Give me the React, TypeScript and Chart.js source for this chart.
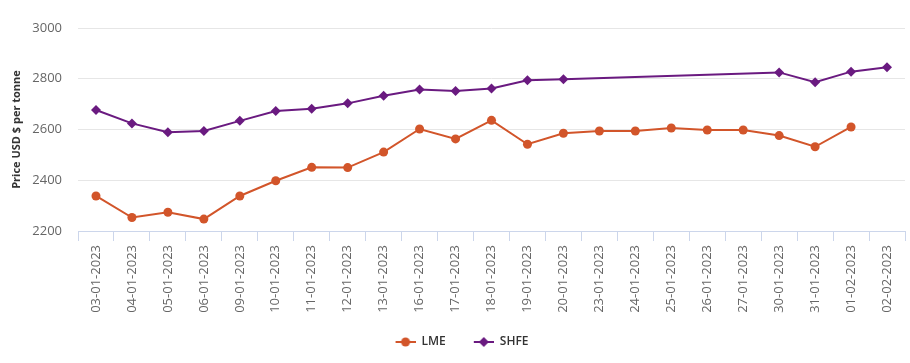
import React, { useEffect, useRef } from "react";
import { Chart, registerables } from "chart.js";

Chart.register(...registerables);

const categories = [
  "03-01-2023", "04-01-2023", "05-01-2023", "06-01-2023", "09-01-2023",
  "10-01-2023", "11-01-2023", "12-01-2023", "13-01-2023", "16-01-2023",
  "17-01-2023", "18-01-2023", "19-01-2023", "20-01-2023", "23-01-2023",
  "24-01-2023", "25-01-2023", "26-01-2023", "27-01-2023", "30-01-2023",
  "31-01-2023", "01-02-2023", "02-02-2023",
];

const lmeValues: (number | null)[] = [
  2338, 2253, 2274, 2247, 2338, 2398, 2451, 2450, 2511, 2602, 2563,
  2636, 2542, 2585, 2594, 2594, 2606, 2598, 2598, 2576, 2532, 2610, null,
];

const shfeValues: (number | null)[] = [
  2677, 2624, 2589, 2594, 2634, 2673, 2682, 2703, 2733, 2758, 2752,
  2762, 2794, 2798, null, null, null, null, null, 2825, 2786, 2828, 2845,
];

const yTicks = [2200, 2400, 2600, 2800, 3000];

const LME_COLOR = "#d2552a";
const SHFE_COLOR = "#6a1a80";

function makeIcon(color: string, shape: "circle" | "diamond") {
  const c = document.createElement("canvas");
  c.width = 38;
  c.height = 12;
  const ctx = c.getContext("2d")!;
  ctx.strokeStyle = color;
  ctx.fillStyle = color;
  ctx.lineWidth = 2;
  ctx.beginPath();
  ctx.moveTo(18, 6);
  ctx.lineTo(38, 6);
  ctx.stroke();
  const cx = 28, cy = 6;
  ctx.beginPath();
  if (shape === "circle") {
    ctx.arc(cx, cy, 4.5, 0, Math.PI * 2);
  } else {
    ctx.moveTo(cx, cy - 5);
    ctx.lineTo(cx + 5, cy);
    ctx.lineTo(cx, cy + 5);
    ctx.lineTo(cx - 5, cy);
    ctx.closePath();
  }
  ctx.fill();
  return c;
}

export default function App() {
  const ref = useRef<HTMLCanvasElement | null>(null);

  useEffect(() => {
    document.body.style.margin = "0";
    const canvas = ref.current!;
    const icons = [makeIcon(LME_COLOR, "circle"), makeIcon(SHFE_COLOR, "diamond")];
    const chart = new Chart(canvas, {
      type: "line",
      data: {
        labels: categories,
        datasets: [
          {
            label: "LME",
            data: lmeValues,
            borderColor: LME_COLOR,
            backgroundColor: LME_COLOR,
            borderWidth: 2,
            pointStyle: "circle",
            pointRadius: 4.5,
            pointBorderWidth: 0,
            pointBackgroundColor: LME_COLOR,
            spanGaps: true,
            tension: 0,
          },
          {
            label: "SHFE",
            data: shfeValues,
            borderColor: SHFE_COLOR,
            backgroundColor: SHFE_COLOR,
            borderWidth: 2,
            pointStyle: "rectRot",
            pointRadius: 5,
            pointBorderWidth: 0,
            pointBackgroundColor: SHFE_COLOR,
            spanGaps: true,
            tension: 0,
          },
        ],
      },
      options: {
        responsive: false,
        animation: false,
        layout: { padding: { top: 28, right: 4, bottom: 5, left: 0 } },
        plugins: {
          tooltip: { enabled: false },
          legend: {
            position: "bottom",
            labels: {
              usePointStyle: true,
              pointStyleWidth: 38,
              padding: 10,
              color: "#333333",
              font: { family: "Open Sans", size: 12, weight: "600" },
              generateLabels: (ch: any) =>
                ch.data.datasets.map((ds: any, i: number) => ({
                  text: ds.label,
                  pointStyle: icons[i],
                  fillStyle: ds.borderColor,
                  strokeStyle: ds.borderColor,
                  lineWidth: 0,
                  hidden: !ch.isDatasetVisible(i),
                  datasetIndex: i,
                  fontColor: "#333333",
                })),
            },
          },
        },
        scales: {
          x: {
            type: "category",
            offset: true,
            afterFit: (s: any) => {
              s.height = 95;
            },
            grid: {
              display: true,
              offset: true,
              drawOnChartArea: false,
              drawTicks: true,
              tickLength: 10,
              color: "#ccd6eb",
            },
            border: { display: true, color: "#ccd6eb" },
            ticks: {
              autoSkip: false,
              minRotation: 90,
              maxRotation: 90,
              padding: 4,
              color: "#666666",
              font: { family: "Open Sans", size: 13 },
            },
          },
          y: {
            min: 2200,
            max: 3000,
            afterFit: (s: any) => {
              s.width = 78;
            },
            afterBuildTicks: (s: any) => {
              s.ticks = yTicks.map((v) => ({ value: v }));
            },
            grid: { color: "#e6e6e6", drawTicks: false },
            border: { display: false },
            ticks: {
              padding: 16,
              color: "#666666",
              font: { family: "Open Sans", size: 13 },
              callback: (v: any) => String(v),
            },
            title: {
              display: true,
              text: "Price USD $ per tonne",
              color: "#333333",
              font: { family: "Open Sans", size: 11, weight: "bold" },
              padding: { top: 10, bottom: 0 },
            },
          },
        },
      },
    } as any);
    return () => chart.destroy();
  }, []);

  return <canvas ref={ref} width={910} height={363} style={{ display: "block" }} />;
}
